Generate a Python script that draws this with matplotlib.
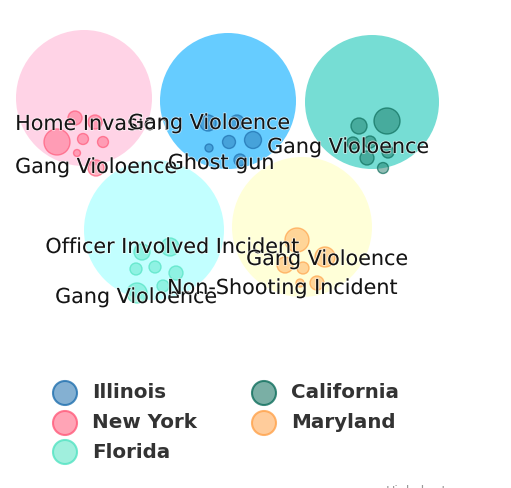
import numpy as np
import matplotlib.pyplot as plt
from matplotlib.patches import Circle
import matplotlib.patheffects as pe

# --- data ---
states = ['Illinois', 'New York', 'Florida', 'California', 'Maryland']
state_colors = ['#1f6fae', '#ff5a7a', '#52e3c2', '#0e6e5c', '#ffa24a']
parent_colors = ['#66ccff', '#ffd3e6', '#c2ffff', '#76ddd4', '#ffffd8']

# incident values per state (bubble size)
values = {
    'Illinois':   [64, 49, 42, 72, 16, 36],
    'New York':   [49, 169, 30, 30, 49, 12, 64],
    'Florida':    [81, 64, 36, 36, 49, 36, 100],
    'California': [169, 64, 36, 36, 49, 36, 30],
    'Maryland':   [144, 100, 64, 36, 49, 16],
}
# labelled incidents: (state, text)
labels = [
    ('New York', 'Home Invasion'),
    ('Illinois', 'Gang Violoence'),
    ('New York', 'Gang Violoence'),
    ('Illinois', 'Ghost gun'),
    ('California', 'Gang Violoence'),
    ('Florida', 'Officer Involved Incident'),
    ('Maryland', 'Gang Violoence'),
    ('Florida', 'Gang Violoence'),
    ('Maryland', 'Non-Shooting Incident'),
]

# --- layout (pixel space from packed-bubble simulation) ---
parent_pos = {
    'Illinois': (228, 101, 68), 'New York': (84, 98, 68), 'Florida': (154, 230, 70),
    'California': (372, 102, 67), 'Maryland': (302, 227, 70),
}
child_pos = {
    'Illinois':   [(208, 123), (237, 122), (229, 142), (253, 140), (209, 148), (240, 160)],
    'New York':   [(75, 118), (57, 142), (83, 139), (103, 142), (95, 122), (77, 153), (96, 168)],
    'Florida':    [(170, 247), (142, 252), (136, 269), (155, 267), (176, 273), (163, 286), (137, 293)],
    'California': [(387, 121), (359, 126), (370, 142), (353, 143), (367, 158), (388, 152), (383, 168)],
    'Maryland':   [(297, 240), (325, 257), (285, 265), (303, 268), (317, 283), (300, 283)],
}
label_pos = [(92, 124), (209, 123), (96, 167), (221, 163), (348, 147),
             (172, 247), (327, 259), (136, 297), (282, 288)]

W, H = 511, 488
fig = plt.figure(figsize=(W / 100, H / 100), dpi=100)
ax = fig.add_axes([0, 0, 1, 1])
ax.set_xlim(0, W)
ax.set_ylim(H, 0)
ax.set_aspect('equal')
ax.axis('off')

# parent bubbles
for s, pc in zip(states, parent_colors):
    x, y, r = parent_pos[s]
    ax.add_patch(Circle((x, y), r, facecolor=pc, edgecolor='none', zorder=1))

# child bubbles
for s, c in zip(states, state_colors):
    for v, (x, y) in zip(values[s], child_pos[s]):
        r = np.sqrt(v)
        ax.add_patch(Circle((x, y), r, facecolor=c, alpha=0.45, edgecolor='none', zorder=2))
        ax.add_patch(Circle((x, y), r, facecolor='none', edgecolor=c, alpha=0.7, lw=1, zorder=2))

# data labels
outline = [pe.withStroke(linewidth=1.2, foreground='white', alpha=0.6)]
for (s, txt), (x, y) in zip(labels, label_pos):
    ax.text(x, y, txt, ha='center', va='center', fontsize=14.9, color='#141414',
            path_effects=outline, zorder=3)

# legend
leg_x = [65, 264]
leg_y = [393, 423, 452]
order = ['Illinois', 'New York', 'Florida', 'California', 'Maryland']
for i, s in enumerate(order):
    col, row = (0, i) if i < 3 else (1, i - 3)
    c = state_colors[states.index(s)]
    x, y = leg_x[col], leg_y[row]
    ax.add_patch(Circle((x, y), 12, facecolor=c, alpha=0.55, edgecolor='none', zorder=2))
    ax.add_patch(Circle((x, y), 12, facecolor='none', edgecolor=c, lw=1.5, alpha=0.8, zorder=2))
    ax.text(x + 27, y, s, ha='left', va='center', fontsize=14.3, fontweight='bold',
            color='#333333', zorder=3)

# credits (cut off at the bottom)
ax.text(386, 492, 'Highcharts.com', ha='left', va='center', fontsize=9, color='#999999')

fig.savefig('out.png', dpi=100)
plt.close(fig)
